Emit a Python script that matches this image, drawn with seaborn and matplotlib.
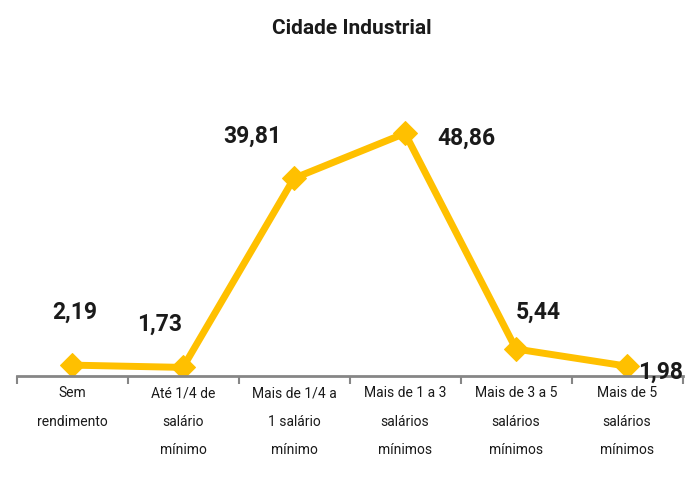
import matplotlib
matplotlib.use("Agg")
import matplotlib.pyplot as plt
import seaborn as sns
import pandas as pd

# ── Data ──────────────────────────────────────────────────────────────────────
categories = [
    "Sem\nrendimento",
    "Até 1/4 de\nsalário\nmínimo",
    "Mais de 1/4 a\n1 salário\nmínimo",
    "Mais de 1 a 3\nsalários\nmínimos",
    "Mais de 3 a 5\nsalários\nmínimos",
    "Mais de 5\nsalários\nmínimos",
]
values = [2.19, 1.73, 39.81, 48.86, 5.44, 1.98]
value_labels = ["2,19", "1,73", "39,81", "48,86", "5,44", "1,98"]

# label offsets in pixels (Excel-style placement)
label_offsets = [(3, 53), (-23, 43), (-42, 42), (61, -5), (22, 37), (34, -6)]

LINE_COLOR = "#FFC000"
AXIS_COLOR = "#868686"

sns.set_style("white")
plt.rcParams["font.family"] = ["Roboto", "DejaVu Sans"]

df = pd.DataFrame({"pos": range(len(categories)), "valor": values})

fig = plt.figure(figsize=(6.85, 4.91), dpi=100)
ax = fig.add_axes([16.5 / 685, 115 / 491, 666 / 685, 298 / 491])

sns.lineplot(data=df, x="pos", y="valor", ax=ax, color=LINE_COLOR,
             linewidth=5, marker="D", markersize=12, markeredgecolor=LINE_COLOR)

for i, (v, lab) in enumerate(zip(values, value_labels)):
    dx, dy = label_offsets[i]
    ax.annotate(lab, (i, v), xytext=(dx, dy), textcoords="offset pixels",
                ha="center", va="center", fontsize=16.5, fontweight="bold",
                color="#1a1a1a", annotation_clip=False)

ax.set_xlim(-0.5, len(categories) - 0.5)
ax.set_ylim(0, 60)

# category boundaries get the tick marks, labels sit at the centres
ax.set_xticks([i - 0.5 for i in range(len(categories) + 1)])
ax.set_xticklabels([])
ax.tick_params(axis="x", which="major", direction="out", length=6, width=1.5,
               color=AXIS_COLOR, bottom=True)
ax.set_yticks([])
for i, c in enumerate(categories):
    ax.text(i, -2.1, c, ha="center", va="top", fontsize=10,
            linespacing=2.3, color="#1a1a1a",
            transform=ax.transData)

for side in ["top", "right", "left"]:
    ax.spines[side].set_visible(False)
ax.spines["bottom"].set_color(AXIS_COLOR)
ax.spines["bottom"].set_linewidth(2)
ax.set_xlabel("")
ax.set_ylabel("")

fig.text(352 / 685, 1 - 29 / 491, "Cidade Industrial", ha="center", va="center",
         fontsize=15, fontweight="bold", color="#1a1a1a")

fig.savefig("out.png", dpi=100)
